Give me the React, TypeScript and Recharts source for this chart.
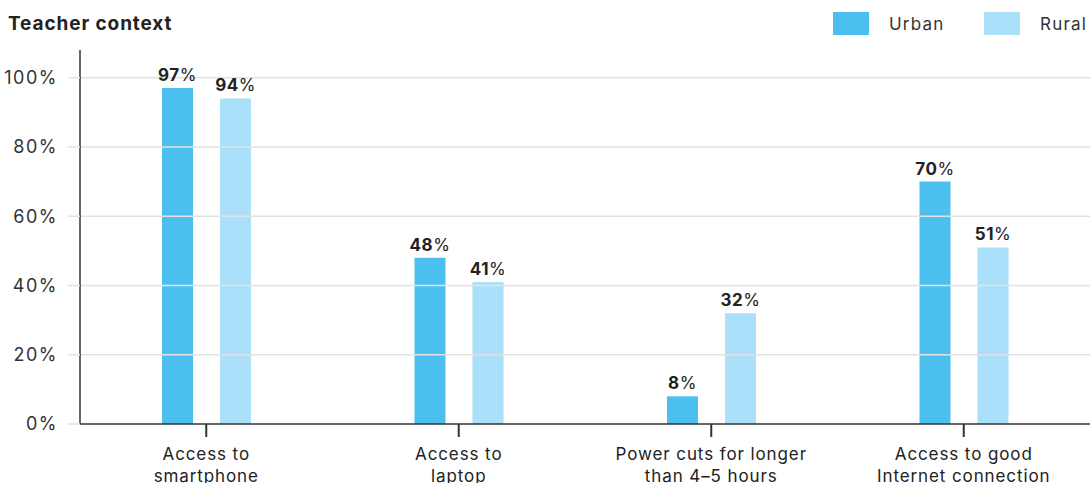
import { BarChart, Bar, XAxis, YAxis, ReferenceLine, LabelList } from 'recharts'

// ─── data ────────────────────────────────────────────────────────────────

const CATEGORIES = [
  'Access to\nsmartphone',
  'Access to\nlaptop',
  'Power cuts for longer\nthan 4–5 hours',
  'Access to good\nInternet connection',
]
const URBAN = [97, 48, 8, 70]
const RURAL = [94, 41, 32, 51]
const Y_TICKS = [0, 20, 40, 60, 80, 100]

// ─── style ───────────────────────────────────────────────────────────────

const FONT = 'Inter, "Noto Sans", sans-serif'
const URBAN_COLOR = '#4bc0ee'
const RURAL_COLOR = '#aae0fa'
const INK = '#222222'
const AXIS = '#333333'
const GRID = '#e2e2e2'

const rows = CATEGORIES.map((name, i) => ({ name, urban: URBAN[i], rural: RURAL[i] }))

function ValueLabel(props: any) {
  const { x, y, width, value } = props
  return (
    <text x={x + width / 2} y={y - 7} textAnchor="middle" fontFamily={FONT} fontSize={17} letterSpacing={0.5} fill={INK}>
      <tspan fontWeight={700}>{value}</tspan>
      <tspan fontWeight={400}>%</tspan>
    </text>
  )
}

function CategoryTick(props: any) {
  const { x, y, payload } = props
  const lines = String(payload.value).split('\n')
  return (
    <text x={x} y={y} textAnchor="middle" fontFamily={FONT} fontSize={17} letterSpacing={0.9} fill={INK}>
      {lines.map((l, i) => (
        <tspan key={i} x={x} dy={i === 0 ? 19 : 22}>{l}</tspan>
      ))}
    </text>
  )
}

function LegendSwatch({ color, label, left }: { color: string; label: string; left: number }) {
  return (
    <div style={{ position: 'absolute', left, top: 12, display: 'flex', alignItems: 'center' }}>
      <div style={{ width: 36, height: 23, background: color }} />
      <span style={{ marginLeft: 20, fontFamily: FONT, fontSize: 17, letterSpacing: 1.2, color: '#333' }}>{label}</span>
    </div>
  )
}

export default function App() {
  return (
    <div style={{ position: 'fixed', left: 0, top: 0, width: 1090, height: 483, background: '#fff', overflow: 'hidden' }}>
      <div style={{ position: 'absolute', left: 8, top: 12, fontFamily: FONT, fontWeight: 700, fontSize: 19, letterSpacing: 0.9, color: INK }}>
        Teacher context
      </div>
      <LegendSwatch color={URBAN_COLOR} label="Urban" left={833} />
      <LegendSwatch color={RURAL_COLOR} label="Rural" left={984} />
      <BarChart
        width={1090}
        height={483}
        data={rows}
        margin={{ top: 50, right: 0, left: 0, bottom: 29 }}
        barSize={31}
        barGap={27}
      >
        {Y_TICKS.filter(t => t > 0).map(t => (
          <ReferenceLine key={t} y={t} stroke={GRID} strokeWidth={1.5} />
        ))}
        <YAxis
          domain={[0, 108]}
          ticks={Y_TICKS}
          width={80}
          tickFormatter={(v: number) => `${v}%`}
          axisLine={{ stroke: AXIS, strokeWidth: 1.5 }}
          tickLine={{ stroke: GRID, strokeWidth: 1.5 }}
          tickSize={12}
          tickMargin={10}
          tick={{ fill: '#333', fontSize: 18, fontFamily: FONT, letterSpacing: 1.5 }}
        />
        <XAxis
          dataKey="name"
          interval={0}
          height={30}
          axisLine={{ stroke: AXIS, strokeWidth: 1.5 }}
          tickLine={{ stroke: AXIS, strokeWidth: 2 }}
          tickSize={13}
          tickMargin={4}
          tick={<CategoryTick />}
        />
        <Bar dataKey="urban" fill={URBAN_COLOR} isAnimationActive={false}>
          <LabelList dataKey="urban" content={<ValueLabel />} />
        </Bar>
        <Bar dataKey="rural" fill={RURAL_COLOR} isAnimationActive={false}>
          <LabelList dataKey="rural" content={<ValueLabel />} />
        </Bar>
      </BarChart>
    </div>
  )
}
